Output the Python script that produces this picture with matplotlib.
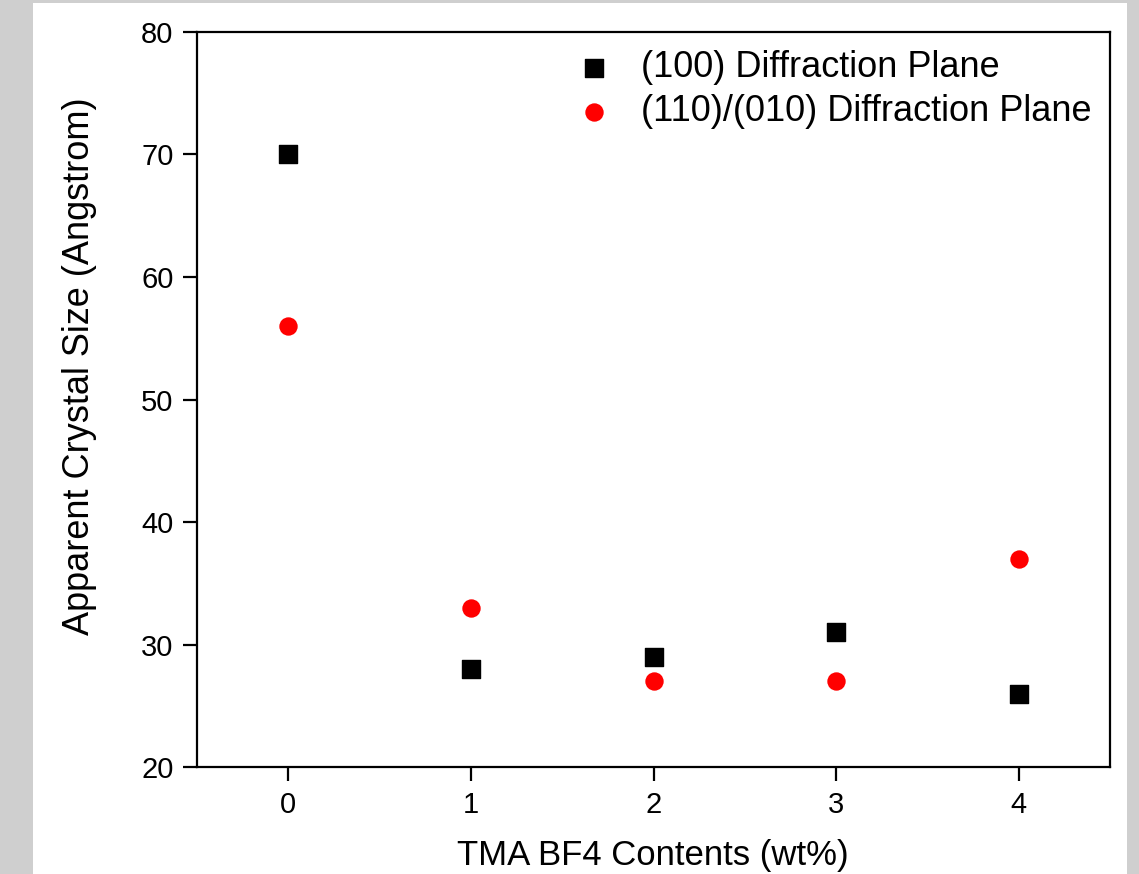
import matplotlib
matplotlib.use('Agg')
import matplotlib.pyplot as plt
from matplotlib.patches import Rectangle

# Data
tma_content = [0, 1, 2, 3, 4]
size_100 = [70, 28, 29, 31, 26]
size_110_010 = [56, 33, 27, 27, 37]

plt.rcParams['font.family'] = ['Liberation Sans', 'DejaVu Sans']

fig = plt.figure(figsize=(11.39, 8.74), dpi=100)
fig.patch.set_facecolor('#cfcfcf')
# white page area inside the gray border
page = Rectangle((33 / 1139, 0), (1127 - 33) / 1139, 1 - 3 / 874,
                 transform=fig.transFigure, facecolor='white',
                 edgecolor='none', zorder=-10)
fig.patches.append(page)

ax = fig.add_axes([0.1730, 0.1224, 0.9745 - 0.1730, 0.9634 - 0.1224])
ax.set_facecolor('none')
ax.scatter(tma_content, size_100, marker='s', s=150, color='black',
           label='(100) Diffraction Plane', zorder=3)
ax.scatter(tma_content, size_110_010, marker='o', s=175, color='#ff0000',
           label='(110)/(010) Diffraction Plane', zorder=3, linewidths=0)

ax.set_xlim(-0.5, 4.5)
ax.set_ylim(20, 80)
ax.set_xticks(tma_content)
ax.set_yticks([20, 30, 40, 50, 60, 70, 80])
ax.tick_params(direction='out', length=10, width=1.6, labelsize=21, pad=7)
for s in ax.spines.values():
    s.set_linewidth(1.6)

# axis labels placed in figure pixels
ax.set_xlabel('TMA BF4 Contents (wt%)', fontsize=25)
ax.xaxis.label.set_verticalalignment('bottom')
ax.xaxis.set_label_coords(653 / 1139, 2 / 874, transform=fig.transFigure)
ax.set_ylabel('Apparent Crystal Size (Angstrom)', fontsize=26)
ax.yaxis.label.set_verticalalignment('top')
ax.yaxis.set_label_coords(62 / 1139, 1 - 366 / 874, transform=fig.transFigure)

ax.legend(loc='upper right', frameon=False, fontsize=26, handletextpad=0.3,
          labelspacing=0.25, borderaxespad=0.1, scatterpoints=1)

fig.savefig('out.png', dpi=100, facecolor=fig.get_facecolor())
